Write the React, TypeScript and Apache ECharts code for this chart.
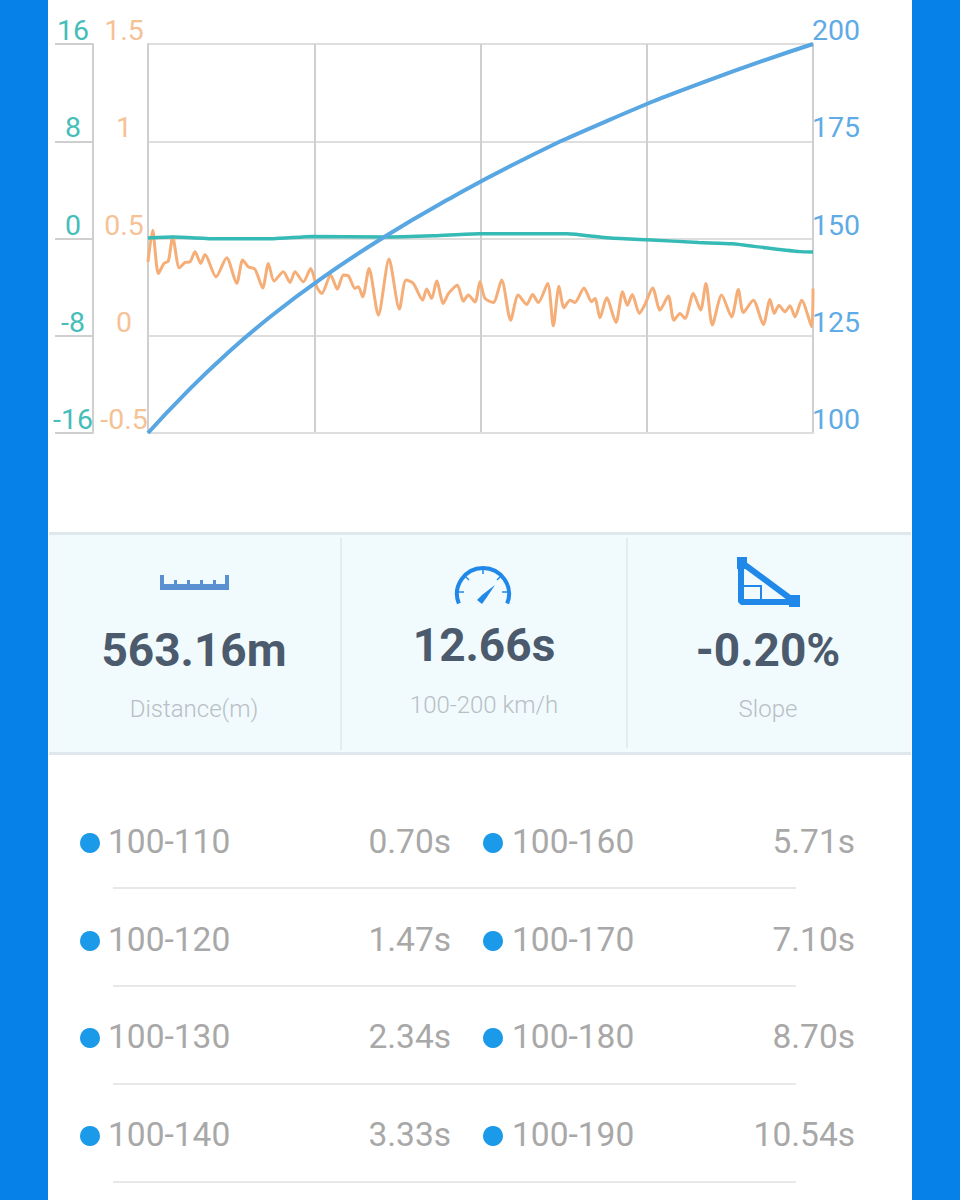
import React, { useEffect, useRef } from "react";
import * as echarts from "echarts";

// x axis: share of the 12.66 s run, in percent
const speedTimes = [0, 0.7, 1.47, 2.34, 3.33, 4.45, 5.71, 7.1, 8.7, 10.54, 12.66];
const speedValues = [100, 110, 120, 130, 140, 150, 160, 170, 180, 190, 200];
const slopeX = [0, 3.8, 10.4, 18.8, 24.8, 35.3, 43, 49.8, 55, 63, 69, 75, 82.8, 87.8, 92.8, 98, 100];
const slopeValues = [0.04, 0.12, -0.02, -0.02, 0.17, 0.12, 0.22, 0.39, 0.39, 0.39, 0.06, -0.1, -0.33, -0.44, -0.76, -1.08, -1.11];
const accelX = [0, 0.7, 1.56, 2.41, 3.06, 3.71, 4.71, 5.57, 6.32, 7.07, 7.92, 8.57, 10.23, 11.83, 13.34, 14.24, 15.09, 16.09, 17.25, 18.1, 18.95, 20.35, 21.36, 22.1, 23.36, 24.46, 25.37, 26.12, 27.47, 28.47, 29.38, 30.13, 31.13, 31.63, 32.28, 33.24, 34.64, 36.24, 37.8, 38.8, 39.9, 41.3, 41.9, 42.66, 43.41, 44.41, 45.17, 46.52, 47.42, 48.17, 49.18, 49.92, 50.67, 51.92, 53.18, 54.53, 55.68, 56.94, 57.84, 58.69, 60.1, 60.95, 61.8, 62.55, 63.45, 64.2, 65.56, 66.71, 67.21, 67.97, 68.97, 70.37, 71.37, 72.08, 72.83, 73.88, 74.73, 75.88, 76.99, 78.24, 79.09, 80, 80.75, 82, 83.1, 83.9, 84.86, 86.26, 87.76, 88.77, 89.52, 91.02, 92.53, 93.53, 94.18, 94.88, 95.79, 96.54, 97.29, 98.29, 99.8, 100];
const accelValues = [0.38, 0.543, 0.32, 0.372, 0.384, 0.509, 0.349, 0.377, 0.38, 0.432, 0.372, 0.418, 0.303, 0.401, 0.269, 0.389, 0.354, 0.342, 0.246, 0.372, 0.281, 0.329, 0.274, 0.329, 0.277, 0.346, 0.252, 0.217, 0.312, 0.24, 0.312, 0.308, 0.243, 0.252, 0.2, 0.346, 0.106, 0.394, 0.137, 0.286, 0.269, 0.183, 0.24, 0.191, 0.282, 0.166, 0.217, 0.26, 0.178, 0.209, 0.174, 0.277, 0.192, 0.171, 0.286, 0.08, 0.209, 0.161, 0.212, 0.171, 0.269, 0.051, 0.255, 0.144, 0.183, 0.171, 0.246, 0.175, 0.192, 0.092, 0.195, 0.068, 0.226, 0.157, 0.212, 0.115, 0.161, 0.246, 0.132, 0.205, 0.08, 0.115, 0.089, 0.217, 0.132, 0.269, 0.055, 0.209, 0.097, 0.238, 0.12, 0.183, 0.058, 0.186, 0.115, 0.157, 0.123, 0.154, 0.097, 0.183, 0.046, 0.243];

const statValues = ["563.16m", "12.66s", "-0.20%"];
const statLabels = ["Distance(m)", "100-200 km/h", "Slope"];
const leftRanges = ["100-110", "100-120", "100-130", "100-140"];
const leftTimes = ["0.70s", "1.47s", "2.34s", "3.33s"];
const rightRanges = ["100-160", "100-170", "100-180", "100-190"];
const rightTimes = ["5.71s", "7.10s", "8.70s", "10.54s"];

const FONT = "Roboto";
const TEAL = "#35bab6";
const ORANGE = "#f5ae78";
const BLUE = "#58a6e2";
const GRID = "#dedede";
const ICON = "#1f88e8";

const zip = (xs: number[], ys: number[]) => xs.map((x, i) => [x, ys[i]]);

function buildGraphics() {
  const g: any[] = [
    { type: "rect", z: -10, shape: { x: 48, y: 0, width: 864, height: 1200 }, style: { fill: "#ffffff" } },
    { type: "rect", z: -9, shape: { x: 49, y: 534, width: 862, height: 219 }, style: { fill: "#f1fafd" } },
    { type: "rect", z: -8, shape: { x: 49, y: 532, width: 862, height: 3 }, style: { fill: "#dfe8ed" } },
    { type: "rect", z: -8, shape: { x: 49, y: 752, width: 862, height: 3 }, style: { fill: "#dfe8ed" } },
    { type: "rect", z: -8, shape: { x: 340, y: 538, width: 2, height: 212 }, style: { fill: "#e3ecef" } },
    { type: "rect", z: -8, shape: { x: 626, y: 538, width: 2, height: 210 }, style: { fill: "#e3ecef" } },
  ];
  const statX = [194, 484, 768];
  const statY = [650, 645, 650];
  const subY = [709, 705, 709];
  statValues.forEach((t, i) => {
    g.push({ type: "text", x: statX[i], y: statY[i], style: { text: t, fill: "#4b5a6c", font: `700 46px ${FONT}`, textAlign: "center", textVerticalAlign: "middle" } });
    g.push({ type: "text", x: statX[i], y: subY[i], style: { text: statLabels[i], fill: "#b8bfc4", font: `300 24px ${FONT}`, textAlign: "center", textVerticalAlign: "middle" } });
  });
  // ruler icon
  g.push({ type: "rect", shape: { x: 160, y: 584, width: 69, height: 6 }, style: { fill: "#5a8fd2" } });
  [160, 225].forEach((x) => g.push({ type: "rect", shape: { x, y: 575, width: 4, height: 12 }, style: { fill: "#5a8fd2" } }));
  [174, 187, 200, 213].forEach((x) => g.push({ type: "rect", shape: { x, y: 580, width: 3, height: 6 }, style: { fill: "#5a8fd2" } }));
  // gauge icon
  g.push({ type: "arc", shape: { cx: 483, cy: 594, r: 26, startAngle: Math.PI * 0.88, endAngle: Math.PI * 2.12, clockwise: true }, style: { stroke: ICON, lineWidth: 4, fill: "none" } });
  [[483, 568, 483, 574], [465, 576, 469, 580], [501, 576, 497, 580], [459, 592, 464, 592], [507, 592, 502, 592]].forEach(([x1, y1, x2, y2]) =>
    g.push({ type: "line", shape: { x1, y1, x2, y2 }, style: { stroke: ICON, lineWidth: 1.5 } })
  );
  g.push({ type: "polygon", shape: { points: [[495, 585], [487, 597], [482, 604], [477, 600], [482, 595]] }, style: { fill: ICON } });
  // slope icon
  g.push({ type: "polygon", shape: { points: [[741, 562], [741, 602], [795, 602]] }, style: { stroke: ICON, lineWidth: 6, fill: "none", lineJoin: "bevel" } });
  g.push({ type: "rect", shape: { x: 737, y: 557, width: 10, height: 12 }, style: { fill: ICON } });
  g.push({ type: "rect", shape: { x: 789, y: 595, width: 11, height: 12 }, style: { fill: ICON } });
  g.push({ type: "rect", shape: { x: 743, y: 586, width: 18, height: 15 }, style: { fill: "none", stroke: ICON, lineWidth: 2 } });

  const rowY = [841, 939, 1036, 1134];
  const sepY = [887, 985, 1083, 1181];
  const label = `400 33.5px ${FONT}`;
  const textFill = "#a8a8a8";
  rowY.forEach((y, i) => {
    g.push({ type: "circle", shape: { cx: 90, cy: y + 2, r: 10 }, style: { fill: "#1a9ae8" } });
    g.push({ type: "circle", shape: { cx: 493, cy: y + 2, r: 10 }, style: { fill: "#1a9ae8" } });
    g.push({ type: "text", x: 108, y, style: { text: leftRanges[i], fill: textFill, font: label, textAlign: "left", textVerticalAlign: "middle" } });
    g.push({ type: "text", x: 451, y, style: { text: leftTimes[i], fill: textFill, font: label, textAlign: "right", textVerticalAlign: "middle" } });
    g.push({ type: "text", x: 512, y, style: { text: rightRanges[i], fill: textFill, font: label, textAlign: "left", textVerticalAlign: "middle" } });
    g.push({ type: "text", x: 855, y, style: { text: rightTimes[i], fill: textFill, font: label, textAlign: "right", textVerticalAlign: "middle" } });
    g.push({ type: "rect", shape: { x: 113, y: sepY[i], width: 683, height: 2 }, style: { fill: "#e8e8e8" } });
  });
  return g;
}

export default function App() {
  const ref = useRef<HTMLDivElement>(null);
  useEffect(() => {
    const chart = echarts.init(ref.current!, undefined, { renderer: "svg" });
    const axisText = (color: string, margin: number, align: string) => ({
      color,
      fontFamily: FONT,
      fontSize: 28.5,
      margin,
      align,
      verticalAlign: "bottom",
      padding: [0, 0, -1, 0],
    });
    const gridLine = { show: true, lineStyle: { color: GRID, width: 2 } };
    chart.setOption({
      animation: false,
      backgroundColor: "#0681e8",
      grid: { left: 148, right: 147, top: 44, bottom: 767, containLabel: false },
      xAxis: {
        type: "value",
        min: 0,
        max: 100,
        interval: 25,
        axisLabel: { show: false },
        axisTick: { show: false },
        axisLine: { show: true, onZero: false, lineStyle: { color: GRID, width: 2 } },
        splitLine: { show: true, lineStyle: { color: "#cfcfcf", width: 2 } },
      },
      yAxis: [
        {
          type: "value", min: -0.5, max: 1.5, interval: 0.5, position: "left",
          axisLine: { show: true, onZero: false, lineStyle: { color: "#cfcfcf", width: 2 } },
          axisTick: { show: false },
          axisLabel: axisText("#f5c297", 24, "center"),
          splitLine: gridLine,
        },
        {
          type: "value", min: -16, max: 16, interval: 8, position: "left", offset: 55,
          axisLine: { show: true, onZero: false, lineStyle: { color: "#cfcfcf", width: 2 } },
          axisTick: { show: true, length: 38, lineStyle: { color: "#cfcfcf", width: 2 } },
          axisLabel: axisText("#45bdb9", 20, "center"),
          splitLine: { show: false },
        },
        {
          type: "value", min: 100, max: 200, interval: 25, position: "right",
          axisLine: { show: true, onZero: false, lineStyle: { color: "#cfcfcf", width: 2 } },
          axisTick: { show: false },
          axisLabel: axisText("#5fabe5", -1, "left"),
          splitLine: { show: false },
        },
      ],
      series: [
        { type: "line", yAxisIndex: 0, data: zip(accelX, accelValues), showSymbol: false, smooth: 0.25, z: 3, lineStyle: { color: ORANGE, width: 3 } },
        { type: "line", yAxisIndex: 1, data: zip(slopeX, slopeValues), showSymbol: false, smooth: 0.2, z: 4, lineStyle: { color: TEAL, width: 3.5 } },
        { type: "line", yAxisIndex: 2, data: zip(speedTimes.map((t) => (t / 12.66) * 100), speedValues), showSymbol: false, smooth: 0.5, z: 5, lineStyle: { color: BLUE, width: 4 } },
      ],
      graphic: buildGraphics(),
    });
    return () => chart.dispose();
  }, []);
  return <div ref={ref} style={{ position: "absolute", left: 0, top: 0, width: 960, height: 1200 }} />;
}
